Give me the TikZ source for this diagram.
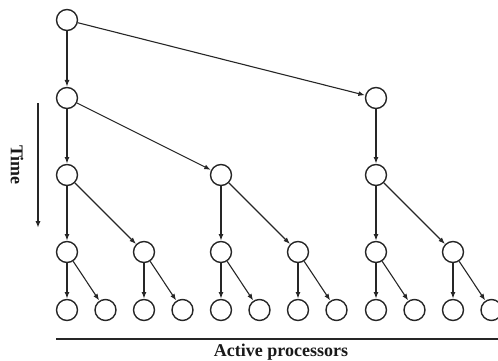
\documentclass[tikz,border=0pt]{standalone}
\usepackage{fontspec}
\setmainfont{Liberation Serif}
\usetikzlibrary{arrows.meta}
\begin{document}
\begin{tikzpicture}[x=1pt,y=-1pt,
  proc/.style={circle,draw=black!85,line width=1.4pt,minimum size=21pt,inner sep=0pt},
  edge/.style={draw=black!85,line width=1.1pt,-{Latex[length=6.5pt,width=5pt]},shorten >=0.3pt},
  lbl/.style={font=\fontsize{18}{18}\selectfont\bfseries,inner sep=0pt,text=black!90}]
\useasboundingbox (0,0) rectangle (498,361);
% row 0
\node[proc] (r) at (67,20) {};
% row 1
\node[proc] (a) at (67,98) {};
\node[proc] (b) at (376,98) {};
% row 2
\node[proc] (a1) at (67,175) {};
\node[proc] (a2) at (221,175) {};
\node[proc] (b1) at (376,175) {};
% row 3
\node[proc] (c1) at (67,252) {};
\node[proc] (c2) at (144,252) {};
\node[proc] (c3) at (221,252) {};
\node[proc] (c4) at (298,252) {};
\node[proc] (c5) at (376,252) {};
\node[proc] (c6) at (453,252) {};
% row 4
\node[proc] (d1) at (67,310) {};
\node[proc] (d2) at (105.5,310) {};
\node[proc] (d3) at (144,310) {};
\node[proc] (d4) at (182.5,310) {};
\node[proc] (d5) at (221,310) {};
\node[proc] (d6) at (259.5,310) {};
\node[proc] (d7) at (298,310) {};
\node[proc] (d8) at (336.5,310) {};
\node[proc] (d9) at (376,310) {};
\node[proc] (d10) at (414.5,310) {};
\node[proc] (d11) at (453,310) {};
\node[proc] (d12) at (491.5,310) {};
% edges
\draw[edge] (r) -- (a);
\draw[edge] (r) -- (b);
\draw[edge] (a) -- (a1);
\draw[edge] (a) -- (a2);
\draw[edge] (b) -- (b1);
\draw[edge] (a1) -- (c1);
\draw[edge] (a1) -- (c2);
\draw[edge] (a2) -- (c3);
\draw[edge] (a2) -- (c4);
\draw[edge] (b1) -- (c5);
\draw[edge] (b1) -- (c6);
\draw[edge] (c1) -- (d1);
\draw[edge] (c1) -- (d2);
\draw[edge] (c2) -- (d3);
\draw[edge] (c2) -- (d4);
\draw[edge] (c3) -- (d5);
\draw[edge] (c3) -- (d6);
\draw[edge] (c4) -- (d7);
\draw[edge] (c4) -- (d8);
\draw[edge] (c5) -- (d9);
\draw[edge] (c5) -- (d10);
\draw[edge] (c6) -- (d11);
\draw[edge] (c6) -- (d12);
% time axis
\coordinate (t0) at (38,103);
\coordinate (t1) at (38,228);
\draw[edge] (t0) -- (t1);
\node[lbl,rotate=-90] (time) at (17,165) {Time};
% processors axis
\coordinate (p0) at (56,339);
\coordinate (p1) at (498,339);
\draw[draw=black!85,line width=1.5pt] (p0) -- (p1);
\node[lbl] (proc) at (281,352) {Active processors};
\end{tikzpicture}
\end{document}
